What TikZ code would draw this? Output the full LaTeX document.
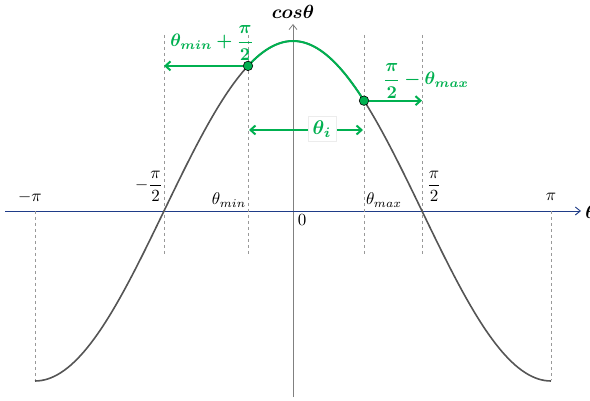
\documentclass[tikz,border=0pt]{standalone}
\usepackage{amsmath,bm}
\usetikzlibrary{arrows.meta}
\definecolor{grn}{HTML}{00B050}
\definecolor{axblue}{HTML}{1F3C88}
\definecolor{curvegray}{HTML}{555555}
\begin{document}
\begin{tikzpicture}[x=1pt,y=-1pt,
  guide/.style={gray!80, dashed, line width=0.8pt},
  curve/.style={curvegray, line width=1.6pt},
  gcurve/.style={grn, line width=2pt},
  garrow/.style={grn, line width=2pt, -{Straight Barb[length=5pt,width=9pt]}},
  lbl/.style={scale=1.7, inner sep=1pt},
  glbl/.style={scale=1.8, text=grn, inner sep=1pt},
  dot/.style={circle, fill=grn, draw=black, line width=0.6pt, minimum size=9.5pt, inner sep=0pt}]
\useasboundingbox (0,0) rectangle (590,401);
% axes
\coordinate (yb) at (293,397);
\coordinate (yt) at (293,24);
\coordinate (xl) at (5,211);
\coordinate (xr) at (581,211);
\draw[gray, line width=0.8pt, -{Straight Barb[length=5pt,width=8pt]}] (yb) -- (yt);
\draw[axblue, line width=0.9pt, -{Straight Barb[length=5pt,width=8pt]}] (xl) -- (xr);
\node[scale=1.9, inner sep=1pt] (ylab) at (293,12) {$\bm{cos\theta}$};
\node[scale=1.9, inner sep=1pt, anchor=west] (xlab) at (583,212) {$\bm{\theta}$};
% guides
\coordinate (gmp1) at (35,211); \coordinate (gmp2) at (35,380);
\coordinate (gpp1) at (551,211); \coordinate (gpp2) at (551,380);
\coordinate (gmh1) at (164,35); \coordinate (gmh2) at (164,254);
\coordinate (gn1) at (248,35); \coordinate (gn2) at (248,254);
\coordinate (gx1) at (364,35); \coordinate (gx2) at (364,254);
\coordinate (gph1) at (422,35); \coordinate (gph2) at (422,254);
\draw[guide] (gmp1) -- (gmp2);
\draw[guide] (gpp1) -- (gpp2);
\draw[guide] (gmh1) -- (gmh2);
\draw[guide] (gn1) -- (gn2);
\draw[guide] (gx1) -- (gx2);
\draw[guide] (gph1) -- (gph2);
% curve
\draw[curve] plot[domain=35:551, samples=160] (\x, {211-170*cos((\x-293)/258*180)});
\draw[gcurve] plot[domain=248:364, samples=60] (\x, {211-170*cos((\x-293)/258*180)});
% points
\node[dot] (pmin) at (248,{211-170*cos((248-293)/258*180)}) {};
\node[dot] (pmax) at (364,{211-170*cos((364-293)/258*180)}) {};
\coordinate (amin) at (164,{211-170*cos((248-293)/258*180)});
\coordinate (amax) at (422,{211-170*cos((364-293)/258*180)});
\draw[garrow] (pmin) -- (amin);
\draw[garrow] (pmax) -- (amax);
% theta_i
\coordinate (ti1) at (249,130);
\coordinate (ti2) at (363,130);
\draw[grn, line width=2pt, {Straight Barb[length=5pt,width=9pt]}-{Straight Barb[length=5pt,width=9pt]}] (ti1) -- (ti2);
\node[glbl, scale=1.1, fill=white, draw=gray!15, inner xsep=2.5pt, inner ysep=2pt] (til) at (322,129) {$\bm{\theta_i}$};
% green labels
\node[glbl] (lmin) at (212,43) {$\bm{\theta_{min}+\dfrac{\pi}{2}}$};
\node[glbl] (lmax) at (426,81) {$\bm{\dfrac{\pi}{2}-\theta_{max}}$};
% axis labels
\node[lbl] (lmp) at (30,197) {$-\pi$};
\node[lbl] (lmh) at (149,186) {$-\dfrac{\pi}{2}$};
\node[lbl] (lthn) at (229,200) {$\theta_{min}$};
\node[lbl] (lz) at (302,220) {$0$};
\node[lbl] (lthx) at (384,200) {$\theta_{max}$};
\node[lbl] (lph) at (434,186) {$\dfrac{\pi}{2}$};
\node[lbl] (lpp) at (551,197) {$\pi$};
\end{tikzpicture}
\end{document}
